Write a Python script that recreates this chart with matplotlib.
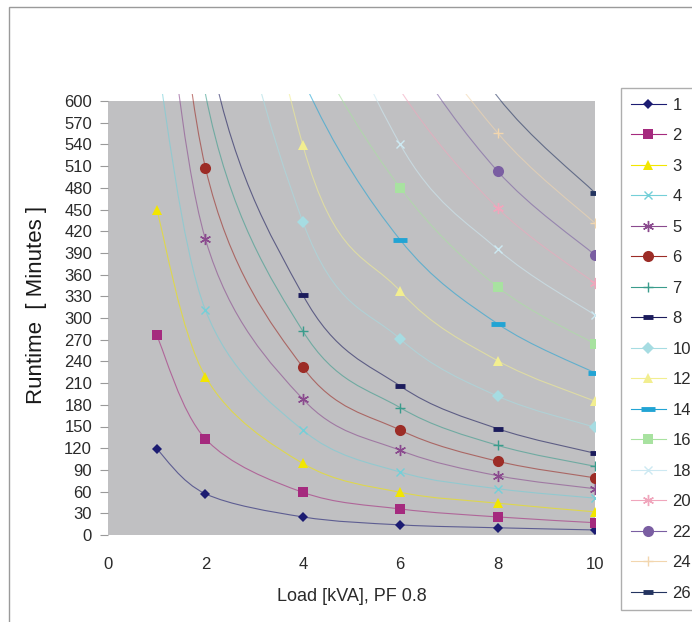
import numpy as np
import matplotlib
matplotlib.use("Agg")
import matplotlib.pyplot as plt
from matplotlib.patches import Rectangle
from matplotlib.path import Path
from matplotlib.patches import PathPatch
from matplotlib.lines import Line2D

plt.rcParams['font.family'] = ['Liberation Sans', 'DejaVu Sans']

# ---- data ----
loads = [1, 2, 4, 6, 8, 10]
series_names = ['1', '2', '3', '4', '5', '6', '7', '8', '10', '12', '14', '16',
                '18', '20', '22', '24', '26']
r1 = [119, 57, 25, 14, 10, 7]
r2 = [276, 133, 59, 36, 25, 17]
r3 = [450, 219, 99, 59, 44, 32]
r4 = [660, 311, 145, 87, 64, 51]
r5 = [870, 409, 188, 117, 82, 64]
r6 = [1090, 508, 232, 145, 102, 79]
r7 = [1300, 610, 282, 176, 124, 95]
r8 = [1500, 700, 332, 206, 147, 113]
r10 = [2000, 1000, 433, 271, 192, 149]
r12 = [2600, 1300, 539, 337, 241, 185]
r14 = [2200, 1000, 630, 408, 292, 224]
r16 = [2200, 1000, 700, 480, 343, 264]
r18 = [3000, 1500, 875, 540, 395, 304]
r20 = [3600, 1700, 860, 615, 452, 348]
r22 = [4000, 1900, 960, 690, 503, 387]
r24 = [4400, 2100, 1060, 750, 556, 431]
r26 = [4800, 2300, 1160, 820, 606, 473]
runtimes = [r1, r2, r3, r4, r5, r6, r7, r8, r10, r12, r14, r16, r18, r20, r22, r24, r26]
x_ticks = [0, 2, 4, 6, 8, 10]
y_ticks = list(range(0, 601, 30))

# ---- styles ----
styles = [
    dict(c='#1c1c72', m='D', ms=5.5, mew=0),
    dict(c='#a52a7e', m='s', ms=7, mew=0),
    dict(c='#f2e600', m='^', ms=7, mew=0),
    dict(c='#74cfd8', m='x', ms=6, mew=1.0),
    dict(c='#8a4a8e', m=(6, 2, 0), ms=8, mew=1.0),
    dict(c='#9c2c26', m='o', ms=8, mew=0),
    dict(c='#3a9c8c', m='+', ms=7, mew=1.0),
    dict(c='#1c1c5c', m='_', ms=7, mew=3.5),
    dict(c='#a6dce2', m='D', ms=6, mew=0),
    dict(c='#f2ee90', m='^', ms=7, mew=0),
    dict(c='#22a4d4', m='_', ms=10, mew=3.5),
    dict(c='#a8e2a0', m='s', ms=7, mew=0),
    dict(c='#cde9f2', m='x', ms=6, mew=1.0),
    dict(c='#f0a6bc', m=(6, 2, 0), ms=8, mew=1.0),
    dict(c='#7a5ea2', m='o', ms=8, mew=0),
    dict(c='#f2d6ae', m='+', ms=7, mew=1.0),
    dict(c='#243460', m='_', ms=7, mew=3.5),
]

W, H = 692, 622
fig = plt.figure(figsize=(W / 100, H / 100), dpi=100)
fig.patch.set_facecolor('white')

# outer chart border
fig.patches.append(Rectangle((9 / W, -0.05), 1.2, (H - 7) / H + 0.05, transform=fig.transFigure,
                             fill=False, edgecolor='#9a9a9a', linewidth=1.0))

ax_l, ax_r, ax_t, ax_b = 108, 595, 101, 535
ax = fig.add_axes([ax_l / W, (H - ax_b) / H, (ax_r - ax_l) / W, (ax_b - ax_t) / H])
ax.set_facecolor('#c0c0c2')
for s in ax.spines.values():
    s.set_visible(False)
ax.set_xlim(0, 10)
ax.set_ylim(0, 600)
ax.set_xticks(x_ticks)
ax.set_yticks(y_ticks)
ax.tick_params(axis='x', length=0, pad=15.5, labelsize=12, labelcolor='#2a2a2a')
ax.tick_params(axis='y', length=5.5, width=0.8, color='#9a9a9a', pad=6, labelsize=12, labelcolor='#2a2a2a')
ax.set_xlabel('Load [kVA], PF 0.8', fontsize=13, color='#2a2a2a', labelpad=12)
ax.set_ylabel('Runtime  [ Minutes ]', fontsize=16, color='#1a1a1a')
ax.yaxis.set_label_coords(-0.126, 0.53)

clip_rect = Rectangle((0, 0), 1, 1.016, transform=ax.transAxes, visible=False)
ax.add_patch(clip_rect)


def smooth_path(xs, ys):
    pts = np.column_stack([xs, ys]).astype(float)
    n = len(pts)
    verts = [pts[0]]
    codes = [Path.MOVETO]
    for i in range(n - 1):
        p0 = pts[i - 1] if i > 0 else pts[i]
        p1 = pts[i]
        p2 = pts[i + 1]
        p3 = pts[i + 2] if i + 2 < n else pts[i + 1]
        c1 = p1 + (p2 - p0) / 6.0
        c2 = p2 - (p3 - p1) / 6.0
        verts += [c1, c2, p2]
        codes += [Path.CURVE4] * 3
    return Path(verts, codes)


handles = []
for name, vals, st in zip(series_names, runtimes, styles):
    path = smooth_path(loads, vals)
    patch = PathPatch(path, facecolor='none', edgecolor=st['c'], linewidth=0.8, alpha=0.6)
    ax.add_patch(patch)
    patch.set_clip_path(clip_rect)
    filled = st['m'] not in ('x', '+', '_') and not isinstance(st['m'], tuple)
    ax.plot(loads, vals, linestyle='none', marker=st['m'], markersize=st['ms'],
            markerfacecolor=st['c'], markeredgecolor=st['c'],
            markeredgewidth=st['mew'] if not filled else 0, clip_on=True, zorder=3)
    handles.append(Line2D([], [], color=st['c'], linewidth=0.8, alpha=1.0, marker=st['m'],
                          markersize=st['ms'], markerfacecolor=st['c'], markeredgecolor=st['c'],
                          markeredgewidth=st['mew'] if not filled else 0, label=name))

leg = fig.legend(handles=handles, loc='upper left', bbox_to_anchor=(621 / W, (H - 88) / H),
                 bbox_transform=fig.transFigure, borderaxespad=0, frameon=True, fancybox=False,
                 fontsize=12, handlelength=2.1, handletextpad=0.4, labelspacing=0.93,
                 borderpad=0.58, edgecolor='#9a9a9a')
leg.get_frame().set_linewidth(1.0)
for t in leg.get_texts():
    t.set_color('#2a2a2a')

fig.savefig('out.png', dpi=100)
